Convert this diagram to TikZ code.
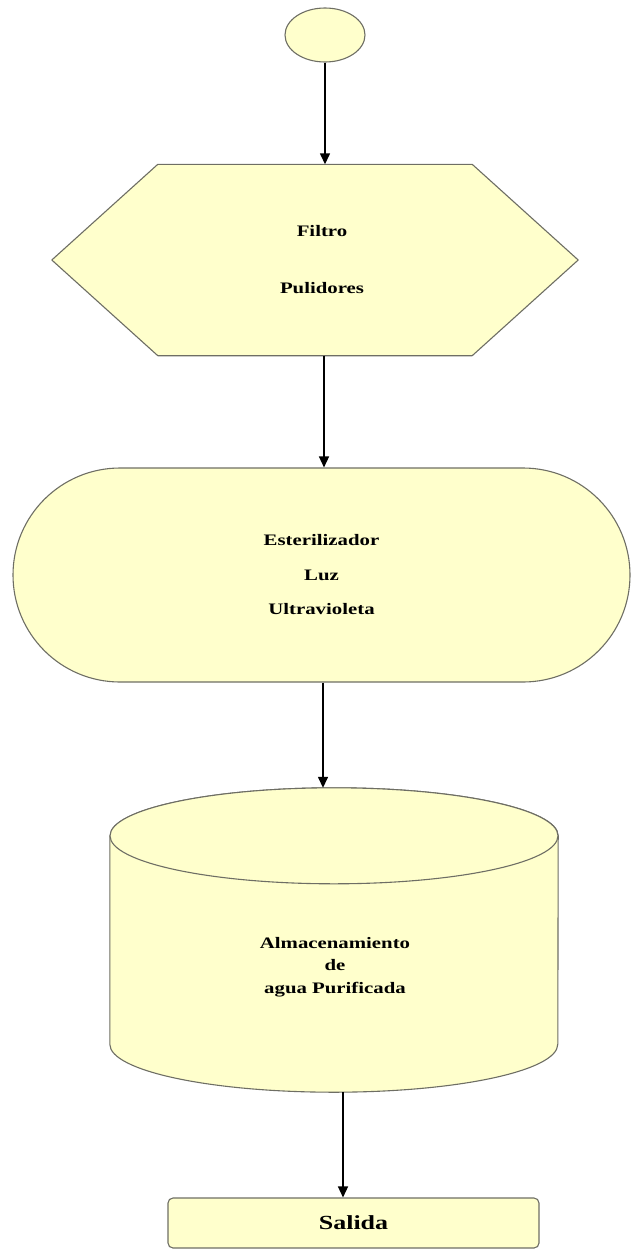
\documentclass[tikz,border=0pt]{standalone}
\usepackage{fontspec}
\newfontfamily\flowfont{Liberation Serif}[FakeStretch=1.3]
\usetikzlibrary{shapes.geometric, shapes.misc, arrows.meta, positioning, backgrounds}
\definecolor{boxfill}{HTML}{FFFFCC}
\definecolor{boxline}{HTML}{6E6E64}

\begin{document}
\begin{tikzpicture}[
  x=1pt, y=-1pt,
  font=\flowfont\bfseries\fontsize{16}{22.5}\selectfont,
  >={Triangle[width=10pt,length=11pt]},
  base/.style={
    fill=boxfill, draw=boxline, line width=1.1pt,
    inner sep=0pt, align=center
  },
  frame/.style={inner sep=0pt, align=center},
  startnode/.style={base, ellipse, minimum width=80pt, minimum height=54pt},
  filterbox/.style={frame, minimum width=526pt, minimum height=191pt},
  lampbox/.style={base, rounded rectangle, minimum width=617pt, minimum height=214pt},
  tankbox/.style={frame, minimum width=448pt, minimum height=304pt},
  exitbox/.style={base, rectangle, rounded corners=5pt, minimum width=371pt, minimum height=50pt},
  outline/.style={fill=boxfill, draw=boxline, line width=1.1pt, line join=round},
  arr/.style={->, line width=1.4pt, color=black},
]
\useasboundingbox (0,0) rectangle (631,1250);
%% Stages
\node[startnode] (START) at (325,35) {};
\node[filterbox] (FILT) at (315,260) {\hspace*{14pt}Filtro\\[34.5pt]\hspace*{14pt}Pulidores};
\node[lampbox]   (UV)   at (321.5,575) {Esterilizador\\[12pt]Luz\\[12pt]Ultravioleta};
\node[tankbox]   (TANK) at (334,940) {};
\node[exitbox, font=\flowfont\bfseries\fontsize{20}{24}\selectfont] (EXIT) at (353.5,1223) {Salida};
%% Outlines drawn by hand
\begin{scope}[on background layer]
  \draw[outline] (FILT.west) -- ([xshift=106pt]FILT.north west) -- ([xshift=-106pt]FILT.north east)
    -- (FILT.east) -- ([xshift=-106pt]FILT.south east) -- ([xshift=106pt]FILT.south west) -- cycle;
  \draw[outline] ([yshift=-48pt]TANK.north west) -- ([yshift=48pt]TANK.south west)
    arc[start angle=180, end angle=360, x radius=224pt, y radius=48pt]
    -- ([yshift=-48pt]TANK.north east)
    arc[start angle=0, end angle=180, x radius=224pt, y radius=48pt] -- cycle;
  \draw[outline] ([yshift=-48pt]TANK.north) ellipse[x radius=224pt, y radius=48pt];
\end{scope}
\node[frame] (TANKTXT) at (335,967) {Almacenamiento\\de\\agua Purificada};
%% Arrows
\draw[arr] (START.south) -- (FILT.north -| START.south);
\draw[arr] ([xshift=9pt]FILT.south) -- ([xshift=9pt]FILT.south |- UV.north);
\draw[arr] ([xshift=1.5pt]UV.south) -- ([xshift=1.5pt]UV.south |- TANK.north);
\draw[arr] ([xshift=9pt]TANK.south) -- ([xshift=9pt]TANK.south |- EXIT.north);
\end{tikzpicture}
\end{document}
